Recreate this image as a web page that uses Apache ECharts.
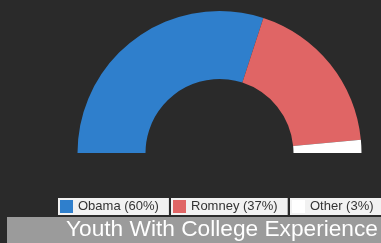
<!DOCTYPE html>
<html style="height: 100%">
<head>
    <meta charset="utf-8">
    <script src="https://cdn.jsdelivr.net/npm/echarts@6/dist/echarts.min.js"></script>
</head>
<body style="height: 100%; margin: 0; background-color: #2a2a2a;">
<div id="main" style="width: 381px; height: 243px;"></div>
<script>
// data
var names = ['Obama', 'Romney', 'Other'];
var shares = [60, 37, 3];
var colors = ['#2f7fcc', '#e06565', '#ffffff'];
var chartTitle = 'Youth With College Experience';

var chartDom = document.getElementById('main');
var myChart = echarts.init(chartDom);

var pieData = names.map(function (n, i) {
    return { name: n, value: shares[i], itemStyle: { color: colors[i] } };
});

// one legend per item so each one gets its own light box
var legendLeft = [58, 171, 290];
var legends = names.map(function (n, i) {
    return {
        data: [n],
        left: legendLeft[i],
        top: 198,
        padding: [2, 10, 2, 2],
        backgroundColor: '#f1f1f1',
        icon: 'rect',
        itemWidth: 13,
        itemHeight: 13,
        selectedMode: false,
        formatter: function (name) {
            return name + ' (' + shares[names.indexOf(name)] + '%)';
        },
        textStyle: { color: '#333', fontSize: 13, fontFamily: 'Liberation Sans' }
    };
});

var option = {
    backgroundColor: '#2a2a2a',
    animation: false,
    title: {
        text: chartTitle,
        left: 66,
        top: 218,
        padding: 0,
        textStyle: { color: '#fff', fontSize: 22.7, fontWeight: 'normal', fontFamily: 'Liberation Sans' }
    },
    graphic: [{
        type: 'rect',
        z: -1,
        shape: { x: 7, y: 217, width: 380, height: 30 },
        style: { fill: '#9b9b9b' }
    }],
    legend: legends,
    series: [{
        type: 'pie',
        center: [219.5, 153],
        radius: [74, 142],
        startAngle: 180,
        endAngle: 0,
        silent: true,
        label: { show: false },
        labelLine: { show: false },
        data: pieData
    }]
};

myChart.setOption(option);
</script>
</body>
</html>
